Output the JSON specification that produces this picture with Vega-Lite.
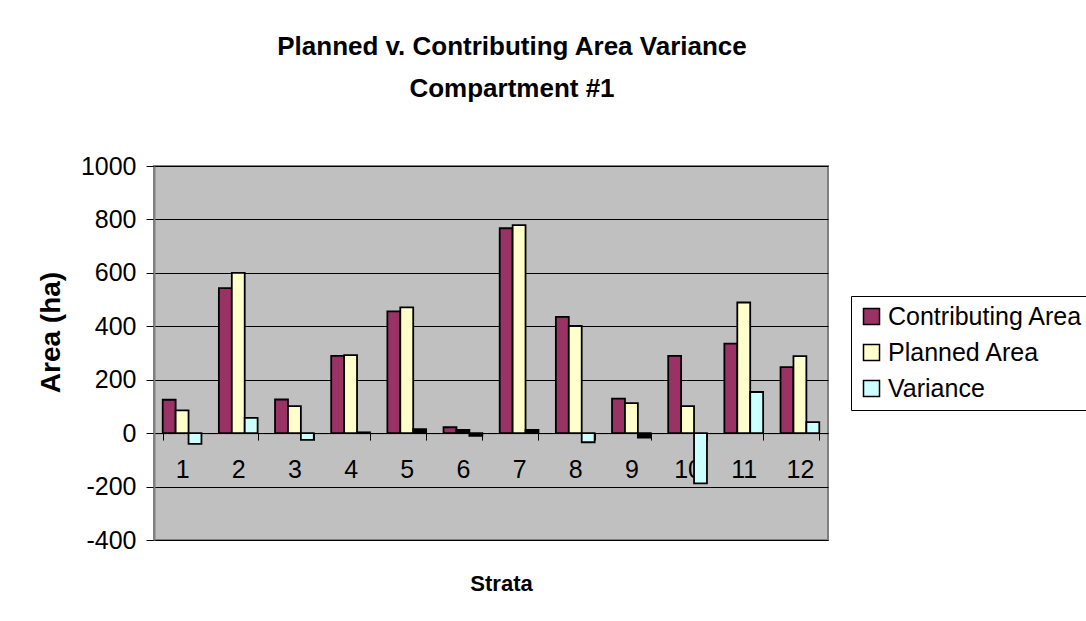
{
  "$schema": "https://vega.github.io/schema/vega-lite/v6.json",
  "width": 674,
  "height": 374,
  "autosize": {"type": "none"},
  "padding": {"left": 154, "top": 166, "right": 258, "bottom": 81},
  "background": "white",
  "title": {
    "text": ["Planned v. Contributing Area Variance", "Compartment #1"],
    "font": "Liberation Sans",
    "fontSize": 26,
    "fontWeight": "bold",
    "color": "black",
    "lineHeight": 42,
    "anchor": "middle",
    "frame": "group",
    "baseline": "bottom",
    "dx": 21,
    "offset": 26
  },
  "data": {
    "values": [
      {"strata": 1, "series": "Contributing Area", "value": 125},
      {"strata": 1, "series": "Planned Area", "value": 85},
      {"strata": 1, "series": "Variance", "value": -40},
      {"strata": 2, "series": "Contributing Area", "value": 543},
      {"strata": 2, "series": "Planned Area", "value": 600},
      {"strata": 2, "series": "Variance", "value": 57},
      {"strata": 3, "series": "Contributing Area", "value": 126},
      {"strata": 3, "series": "Planned Area", "value": 101},
      {"strata": 3, "series": "Variance", "value": -25},
      {"strata": 4, "series": "Contributing Area", "value": 289},
      {"strata": 4, "series": "Planned Area", "value": 292},
      {"strata": 4, "series": "Variance", "value": 3},
      {"strata": 5, "series": "Contributing Area", "value": 456},
      {"strata": 5, "series": "Planned Area", "value": 471},
      {"strata": 5, "series": "Variance", "value": 15},
      {"strata": 6, "series": "Contributing Area", "value": 22},
      {"strata": 6, "series": "Planned Area", "value": 12},
      {"strata": 6, "series": "Variance", "value": -10},
      {"strata": 7, "series": "Contributing Area", "value": 767},
      {"strata": 7, "series": "Planned Area", "value": 779},
      {"strata": 7, "series": "Variance", "value": 12},
      {"strata": 8, "series": "Contributing Area", "value": 435},
      {"strata": 8, "series": "Planned Area", "value": 401},
      {"strata": 8, "series": "Variance", "value": -34},
      {"strata": 9, "series": "Contributing Area", "value": 129},
      {"strata": 9, "series": "Planned Area", "value": 112},
      {"strata": 9, "series": "Variance", "value": -17},
      {"strata": 10, "series": "Contributing Area", "value": 289},
      {"strata": 10, "series": "Planned Area", "value": 101},
      {"strata": 10, "series": "Variance", "value": -188},
      {"strata": 11, "series": "Contributing Area", "value": 335},
      {"strata": 11, "series": "Planned Area", "value": 489},
      {"strata": 11, "series": "Variance", "value": 154},
      {"strata": 12, "series": "Contributing Area", "value": 247},
      {"strata": 12, "series": "Planned Area", "value": 288},
      {"strata": 12, "series": "Variance", "value": 41}
    ]
  },
  "mark": {"type": "bar", "stroke": "black", "strokeWidth": 1.8},
  "encoding": {
    "x": {
      "field": "strata",
      "type": "ordinal",
      "scale": {"paddingInner": 0.31, "paddingOuter": 0.155},
      "axis": {
        "orient": "bottom",
        "offset": -106.9,
        "title": "Strata",
        "titleFont": "Liberation Sans",
        "titleFontSize": 22,
        "titleFontWeight": "bold",
        "titleColor": "black",
        "titleX": 347,
        "titleY": 150,
        "titleBaseline": "middle",
        "titleAlign": "center",
        "labelAngle": 0,
        "labelFont": "Liberation Sans",
        "labelFontSize": 25,
        "labelColor": "black",
        "labelPadding": 17,
        "tickBand": "extent",
        "tickSize": 7,
        "tickColor": "black",
        "tickWidth": 1,
        "domainColor": "black",
        "domainWidth": 1,
        "grid": false
      }
    },
    "xOffset": {
      "field": "series",
      "type": "nominal",
      "scale": {"paddingInner": 0, "paddingOuter": 0}
    },
    "y": {
      "field": "value",
      "type": "quantitative",
      "scale": {"domain": [-400, 1000], "nice": false, "zero": false},
      "axis": {
        "values": [-400, -200, 0, 200, 400, 600, 800, 1000],
        "labelExpr": "'' + datum.value",
        "title": "Area (ha)",
        "titleFont": "Liberation Sans",
        "titleFontSize": 28,
        "titleFontWeight": "bold",
        "titleColor": "black",
        "titleAngle": -90,
        "titleX": -103,
        "titleY": 166,
        "titleAlign": "center",
        "titleBaseline": "middle",
        "labelFont": "Liberation Sans",
        "labelFontSize": 25,
        "labelColor": "black",
        "labelPadding": 10,
        "tickSize": 8,
        "tickColor": "black",
        "tickWidth": 1,
        "domainColor": "#808080",
        "domainWidth": 2,
        "grid": true,
        "gridColor": "black",
        "gridWidth": 1,
        "gridOpacity": 1
      }
    },
    "fill": {
      "field": "series",
      "type": "nominal",
      "scale": {
        "domain": ["Contributing Area", "Planned Area", "Variance"],
        "range": ["#993366", "#FFFFCC", "#CCFFFF"]
      },
      "legend": {
        "title": null,
        "orient": "none",
        "legendX": 697,
        "legendY": 130,
        "direction": "vertical",
        "fillColor": "white",
        "strokeColor": "black",
        "padding": 8,
        "symbolType": "square",
        "symbolSize": 256,
        "symbolStrokeColor": "black",
        "symbolStrokeWidth": 1.5,
        "labelFont": "Liberation Sans",
        "labelFontSize": 25,
        "labelColor": "black",
        "labelOffset": 4,
        "rowPadding": 10,
        "labelLimit": 400
      },
      "condition": {"test": "abs(datum.value) < 20", "value": "black"}
    }
  },
  "config": {
    "view": {"fill": "#C0C0C0", "stroke": "#808080", "strokeWidth": 2},
    "font": "Liberation Sans"
  }
}
